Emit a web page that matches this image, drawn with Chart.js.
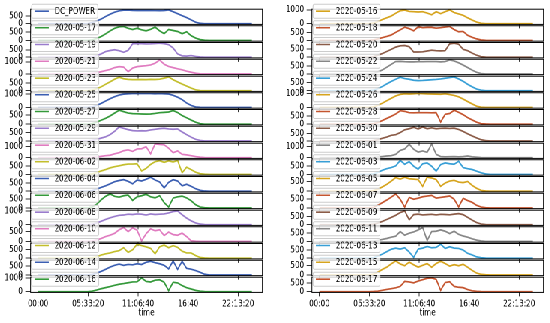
<!DOCTYPE html>
<html>
<head>
<meta charset="utf-8">
<script src="https://cdn.jsdelivr.net/npm/chart.js@4.4.1/dist/chart.umd.min.js"></script>
<style>
html, body { margin: 0; padding: 0; background: #fff; overflow: hidden; }
#fig { position: absolute; left: 0; top: 0; width: 734px; height: 323px; transform: scaleX(0.75); transform-origin: 0 0; }
#fig canvas { position: absolute; }
</style>
</head>
<body>
<div id="fig"></div>
<script>
// seconds of the day for every sample (00:00, 05:30 ... 19:00 every half hour, 23:45)
const times = [0, 19800, 21600, 23400, 25200, 27000, 28800, 30600, 32400, 34200, 36000, 37800, 39600, 41400, 43200,
  45000, 46800, 48600, 50400, 52200, 54000, 55800, 57600, 59400, 61200, 63000, 64800, 66600, 68400, 85500];

const names = ['DC_POWER', '2020-05-16', '2020-05-17', '2020-05-18', '2020-05-19', '2020-05-20', '2020-05-21', '2020-05-22',
  '2020-05-23', '2020-05-24', '2020-05-25', '2020-05-26', '2020-05-27', '2020-05-28', '2020-05-29', '2020-05-30',
  '2020-05-31', '2020-06-01', '2020-06-02', '2020-06-03', '2020-06-04', '2020-06-05', '2020-06-06', '2020-06-07',
  '2020-06-08', '2020-06-09', '2020-06-10', '2020-06-11', '2020-06-12', '2020-06-13', '2020-06-14', '2020-06-15',
  '2020-06-16', '2020-06-17'];

// DC_POWER per day
const d0515 = [0,0,70,170,300,470,620,750,840,880,890,870,860,860,860,860,855,850,860,900,780,650,520,400,250,100,20,0,0,0];
const d0516 = [0,0,40,150,300,420,550,750,930,980,880,860,840,860,760,640,860,720,860,990,800,700,600,420,260,120,30,0,0,0];
const d0517 = [0,0,30,110,230,390,570,720,810,830,720,650,720,630,570,660,790,570,400,650,590,530,400,510,280,140,50,10,0,0];
const d0518 = [0,0,30,100,180,260,350,520,680,850,760,620,880,820,840,840,790,820,860,900,700,560,580,330,200,100,30,10,0,0];
const d0519 = [0,0,20,100,220,380,450,500,440,330,460,900,920,910,890,900,920,940,910,840,620,220,90,70,110,50,15,0,0,0];
const d0520 = [0,0,30,120,220,350,480,620,700,720,650,320,320,330,380,430,400,390,400,820,860,800,480,400,250,120,30,10,0,0];
const d0521 = [0,0,40,100,180,280,370,520,600,560,180,480,600,640,680,740,880,1150,800,620,520,420,340,230,140,60,10,0,0,0];
const d0522 = [0,0,30,120,250,420,600,780,790,770,760,760,770,770,780,780,780,760,780,880,820,700,560,400,240,100,20,0,0,0];
const d0523 = [0,0,30,120,250,420,580,750,880,780,740,720,720,730,720,740,730,750,820,900,720,570,430,300,170,60,10,0,0,0];
const d0524 = [0,0,30,120,250,400,550,680,800,720,680,620,600,610,630,650,670,700,740,780,820,700,560,380,230,100,30,0,0,0];
const d0525 = [0,0,40,150,300,480,650,800,920,990,1020,1030,1040,1030,1030,1030,1020,1030,1020,1000,900,760,580,330,150,40,10,0,0,0];
const d0526 = [0,0,40,150,300,480,650,820,930,980,960,980,1000,990,970,960,950,940,980,920,860,760,600,420,250,90,20,0,0,0];
const d0527 = [0,0,30,110,220,330,460,620,780,700,620,590,580,570,560,570,600,640,660,680,760,650,480,360,230,110,30,0,0,0];
const d0528 = [0,0,30,100,220,350,480,620,820,780,700,690,700,700,700,690,700,130,600,650,850,720,580,400,260,120,30,10,0,0];
const d0529 = [0,0,30,100,170,250,380,580,840,760,680,620,600,610,600,660,700,740,760,720,700,720,540,380,230,100,30,0,0,0];
const d0530 = [0,0,20,80,180,260,380,420,560,750,820,920,800,940,820,880,820,850,860,840,860,770,640,480,340,200,80,20,0,0];
const d0531 = [0,0,20,60,120,180,220,350,450,620,700,560,780,800,980,350,1230,1180,1150,850,450,600,300,250,180,100,40,10,0,0];
const d0601 = [0,0,20,60,100,150,180,300,650,780,1200,750,500,600,480,1230,300,100,80,90,100,80,100,150,80,40,10,0,0,0];
const d0602 = [0,0,30,100,200,280,380,450,500,560,600,600,620,200,350,580,740,800,700,790,720,810,100,420,280,130,40,10,0,0];
const d0603 = [0,0,30,120,250,350,420,520,850,620,780,500,320,650,700,500,200,600,700,650,620,800,420,350,300,200,100,30,0,0];
const d0604 = [0,0,30,120,230,330,450,580,650,700,600,450,680,620,720,850,680,560,200,540,700,620,330,420,300,150,50,10,0,0];
const d0605 = [0,0,30,100,220,350,520,700,620,720,640,620,600,250,720,680,600,250,420,520,560,470,440,500,300,150,40,10,0,0];
const d0606 = [0,0,50,200,450,650,780,650,600,680,720,420,620,680,760,620,560,680,300,50,550,620,660,560,400,180,50,10,0,0];
const d0607 = [0,0,30,150,300,450,620,800,500,50,600,500,560,640,680,720,560,600,640,680,500,60,550,420,320,150,50,10,0,0];
const d0608 = [0,0,30,120,250,380,500,600,680,700,760,740,780,760,700,780,740,760,780,850,950,1000,720,480,280,130,40,10,0,0];
const d0609 = [0,0,30,100,200,320,450,580,750,850,300,620,650,600,620,640,600,640,630,610,650,680,620,450,280,130,40,10,0,0];
const d0610 = [0,0,20,80,150,250,320,420,600,720,500,700,580,30,400,650,550,600,300,480,350,320,430,250,30,10,0,0,0,0];
const d0611 = [0,0,20,60,120,180,260,320,600,380,500,580,700,850,60,600,620,700,620,480,620,430,330,260,160,80,30,0,0,0];
const d0612 = [0,0,20,80,180,250,300,380,430,600,330,480,800,720,650,560,250,650,750,600,720,620,400,300,300,150,40,10,0,0];
const d0613 = [0,0,30,120,250,400,550,620,560,640,380,50,560,620,720,640,660,860,600,700,620,600,500,300,200,80,30,10,0,0];
const d0614 = [0,0,30,100,200,320,450,550,620,550,600,580,640,600,720,780,700,640,550,350,800,320,780,380,330,250,150,40,0,0];
const d0615 = [0,0,40,150,300,420,600,760,600,500,700,550,420,520,620,420,620,750,620,480,560,500,580,420,250,100,30,10,0,0];
const d0616 = [0,0,40,120,220,300,380,470,550,600,660,720,730,1020,760,720,850,880,700,80,700,650,450,300,200,100,40,10,0,0];
const d0617 = [0,0,10,30,80,130,170,220,300,580,550,500,600,680,760,780,700,80,520,560,300,250,230,120,50,20,5,0,0,0];

const series = [d0515, d0516, d0517, d0518, d0519, d0520, d0521, d0522, d0523, d0524, d0525, d0526, d0527, d0528,
  d0529, d0530, d0531, d0601, d0602, d0603, d0604, d0605, d0606, d0607, d0608, d0609, d0610, d0611, d0612, d0613,
  d0614, d0615, d0616, d0617];

const xTicks = [0, 20000, 40000, 60000, 80000];
const xTickLabels = ['00:00', '05:33:20', '11:06:40', '16:40', '22:13:20'];

const colors = ['#3c5fb2', '#d6a41e', '#34993a', '#c4552f', '#9a7ccc', '#8b5c48', '#e07cc0', '#878787', '#c3be2c', '#389fd6'];

// page geometry (target pixels, x is later divided by the horizontal squeeze)
const SX = 0.75, H = 323;
const colStart = [0, 280], colEnd = [280, 550];
const plotLeft = [30.5, 311.8], plotRight = [262.25, 543.5];
const top0 = 9, rowStep = 16.75, rowH = 15.4;
const xMin = -3000, xMax = 89700;
const xAxisBottomH = 26.3;
const padL = 6;
const FS = 9.5;

Chart.defaults.font.family = "'DejaVu Sans', sans-serif";
Chart.defaults.font.size = FS;
Chart.defaults.color = '#000';

const frame = {
  id: 'frame',
  afterDatasetsDraw(chart) {
    const { ctx, chartArea: a } = chart;
    ctx.save();
    ctx.strokeStyle = '#000';
    ctx.lineWidth = 1;
    ctx.strokeRect(a.left, a.top, a.right - a.left, a.bottom - a.top);
    ctx.restore();
  }
};

const boxLegend = {
  id: 'boxLegend',
  afterDraw(chart) {
    const { ctx, chartArea: a } = chart;
    const ds = chart.data.datasets[0];
    ctx.save();
    ctx.font = FS + "px 'DejaVu Sans'";
    const tw = ctx.measureText(ds.label).width;
    const x0 = a.left + 1.5, y0 = a.top - 5, w = tw + 3.6 * FS, h = 14;
    ctx.beginPath();
    ctx.roundRect(x0, y0, w, h, 2);
    ctx.fillStyle = 'rgba(255,255,255,0.8)';
    ctx.fill();
    ctx.strokeStyle = '#cccccc';
    ctx.lineWidth = 1;
    ctx.stroke();
    const cy = y0 + h / 2;
    ctx.beginPath();
    ctx.moveTo(x0 + 0.4 * FS, cy);
    ctx.lineTo(x0 + 2.4 * FS, cy);
    ctx.strokeStyle = ds.borderColor;
    ctx.lineWidth = 1.6;
    ctx.stroke();
    ctx.fillStyle = '#000';
    ctx.textBaseline = 'middle';
    ctx.fillText(ds.label, x0 + 3.2 * FS, cy + 0.5);
    ctx.restore();
  }
};

const fig = document.getElementById('fig');

series.forEach((vals, i) => {
  const col = i % 2, row = Math.floor(i / 2);
  const isBottom = row === 16;
  const top = top0 + row * rowStep, bottom = top + rowH;
  const cTop = Math.floor(top - 9);
  const cBottom = isBottom ? H : Math.ceil(bottom + 10);
  const cLeft = Math.round(colStart[col] / SX);
  const cw = Math.round(colEnd[col] / SX) - cLeft;
  const ch = cBottom - cTop;
  const xH = isBottom ? xAxisBottomH : 0;
  const yW = plotLeft[col] / SX - cLeft - padL;

  const cv = document.createElement('canvas');
  cv.width = cw; cv.height = ch;
  cv.style.left = cLeft + 'px';
  cv.style.top = cTop + 'px';
  cv.style.width = cw + 'px';
  cv.style.height = ch + 'px';
  fig.appendChild(cv);

  const peak = Math.max(...vals);
  const topTick = peak * 1.05 >= 1000 ? 1000 : 500;

  new Chart(cv, {
    type: 'line',
    data: {
      datasets: [{
        label: names[i],
        data: times.map((t, k) => ({ x: t, y: vals[k] })),
        borderColor: colors[i % 10],
        borderWidth: 1.7,
        pointRadius: 0,
        tension: 0,
        fill: false
      }]
    },
    options: {
      responsive: false,
      animation: false,
      devicePixelRatio: 2,
      events: [],
      layout: {
        padding: {
          left: padL,
          right: cLeft + cw - plotRight[col] / SX,
          top: top - cTop,
          bottom: cBottom - bottom - xH
        }
      },
      scales: {
        x: {
          type: 'linear',
          min: xMin,
          max: xMax,
          afterBuildTicks: s => { s.ticks = xTicks.map(v => ({ value: v })); },
          afterFit: s => { s.height = xH; },
          ticks: {
            display: isBottom,
            autoSkip: false,
            maxRotation: 0,
            minRotation: 0,
            padding: 2,
            callback: (v, k) => xTickLabels[k]
          },
          grid: { drawOnChartArea: false, drawTicks: true, tickLength: 4, color: '#000', lineWidth: 0.8 },
          border: { display: false },
          title: { display: isBottom, text: 'time', padding: 0 }
        },
        y: {
          min: -0.05 * peak,
          max: 1.05 * peak,
          afterBuildTicks: s => { s.ticks = [{ value: 0 }, { value: topTick }]; },
          afterFit: s => { s.width = yW; },
          ticks: { autoSkip: false, padding: 3.5, callback: v => String(v) },
          grid: { drawOnChartArea: false, drawTicks: true, tickLength: 7, color: '#000', lineWidth: 0.8 },
          border: { display: false }
        }
      },
      plugins: {
        legend: { display: false },
        tooltip: { enabled: false }
      }
    },
    plugins: [frame, boxLegend]
  });
});
</script>
</body>
</html>
